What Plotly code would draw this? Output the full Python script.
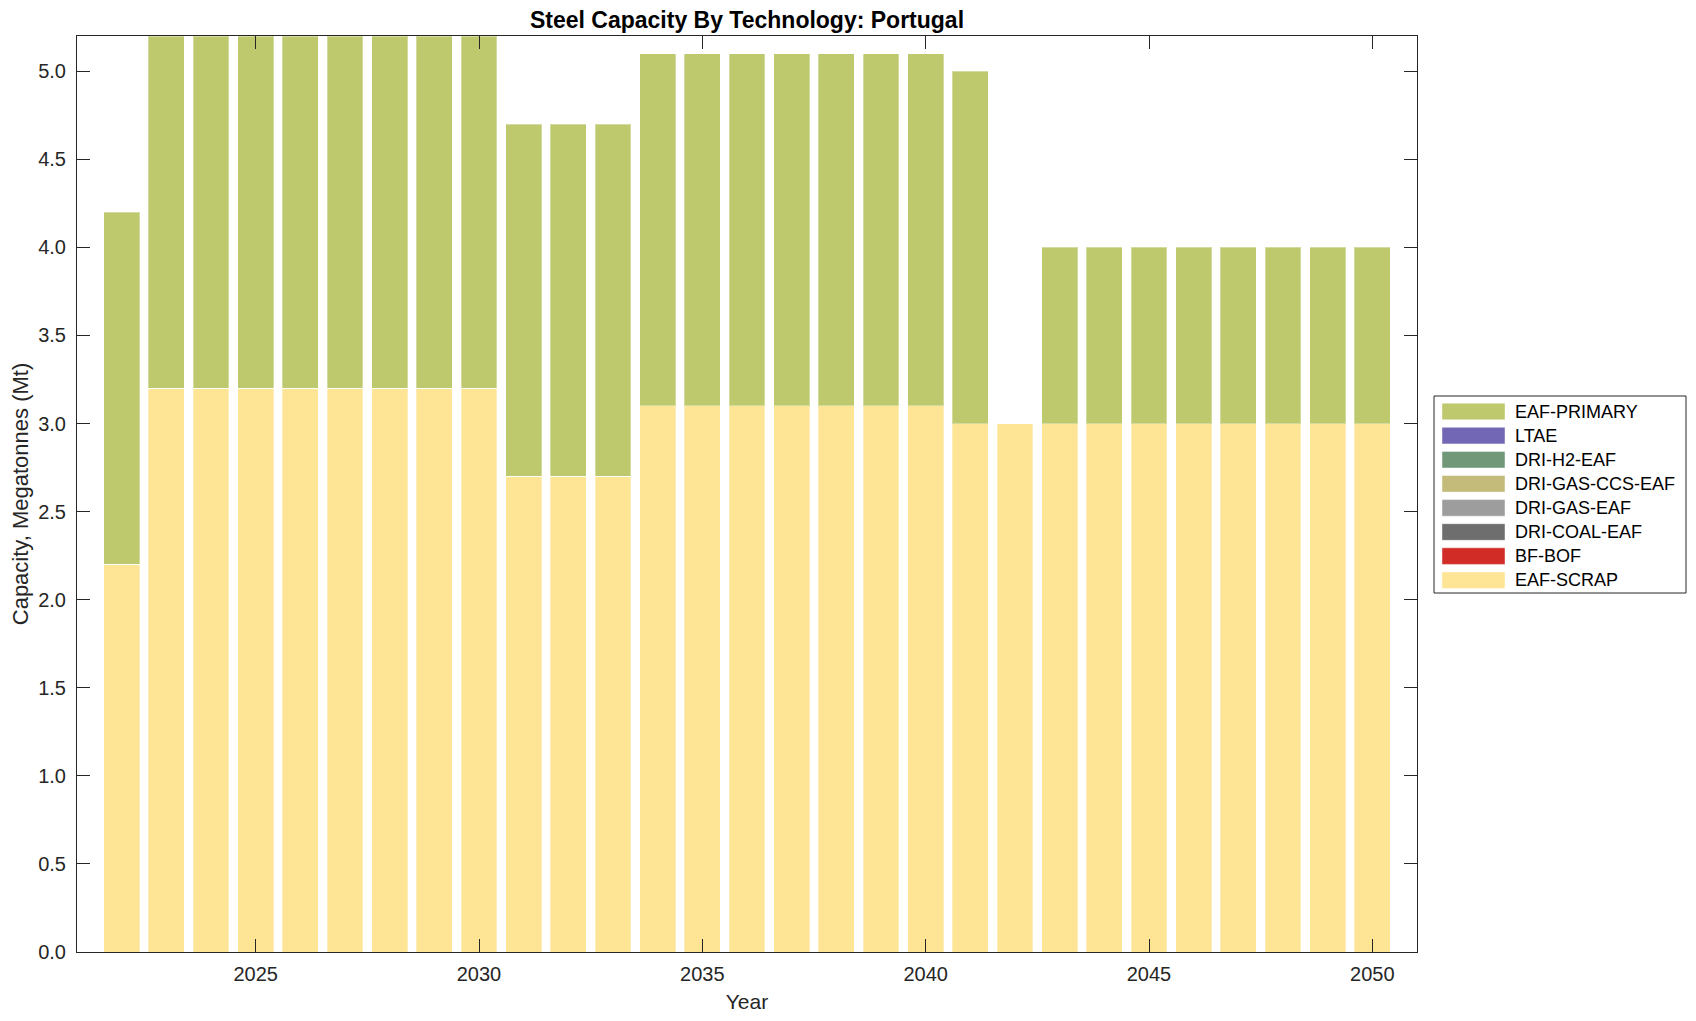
import plotly.graph_objects as go

years = list(range(2022, 2051))

eaf_scrap = [2.2] + [3.2] * 8 + [2.7] * 3 + [3.1] * 7 + [3.0] * 10
bf_bof = [0.0] * 29
dri_coal_eaf = [0.0] * 29
dri_gas_eaf = [0.0] * 29
dri_gas_ccs_eaf = [0.0] * 29
dri_h2_eaf = [0.0] * 29
ltae = [0.0] * 29
eaf_primary = [2.0] * 20 + [0.0] + [1.0] * 8

# bottom-to-top stacking order
series = [
    ("EAF-SCRAP", eaf_scrap, "#FEE495"),
    ("BF-BOF", bf_bof, "#D12C26"),
    ("DRI-COAL-EAF", dri_coal_eaf, "#6E6E6E"),
    ("DRI-GAS-EAF", dri_gas_eaf, "#9D9D9D"),
    ("DRI-GAS-CCS-EAF", dri_gas_ccs_eaf, "#C4BB7B"),
    ("DRI-H2-EAF", dri_h2_eaf, "#72987A"),
    ("LTAE", ltae, "#7267B5"),
    ("EAF-PRIMARY", eaf_primary, "#BEC86C"),
]

W, H = 1680, 1005
L, R, T, B = 69, 1409, 28, 944  # plot area in figure pixels

def px(x):
    return (x - L) / (R - L)

def py(y):
    return (B - y) / (B - T)

font_family = "Liberation Sans, Arial, Helvetica, sans-serif"
fig = go.Figure()
for name, vals, color in series:
    fig.add_trace(go.Bar(
        x=years, y=vals, name=name, showlegend=False,
        marker=dict(color=color, line=dict(color="rgba(255,255,255,0.35)", width=1)),
    ))

axis_common = dict(
    showline=True, linecolor="#262626", linewidth=1, mirror="ticks",
    ticks="inside", ticklen=13, tickcolor="#262626", tickwidth=1,
    showgrid=False, zeroline=False, automargin=False,
    tickfont=dict(size=20, color="#262626", family=font_family),
)

# custom legend (wide swatches) built from the series list
shapes = []
annotations = []
shapes.append(dict(type="rect", xref="paper", yref="paper",
                   x0=px(1426), x1=px(1678), y0=py(388), y1=py(585),
                   line=dict(color="#262626", width=1), fillcolor="white", layer="above"))
for i, (name, vals, color) in enumerate(reversed(series)):
    cy = 403.5 + 24.1 * i
    shapes.append(dict(type="rect", xref="paper", yref="paper",
                       x0=px(1434), x1=px(1497), y0=py(cy - 8.3), y1=py(cy + 8.3),
                       line=dict(color="rgba(255,255,255,0.45)", width=1), fillcolor=color,
                       layer="above"))
    annotations.append(dict(text=name, xref="paper", yref="paper",
                            x=px(1505), y=py(cy), xanchor="left", yanchor="middle",
                            showarrow=False,
                            font=dict(size=18, color="black", family=font_family)))

fig.update_layout(
    width=W, height=H,
    margin=dict(l=L, r=W - R, t=T, b=H - B),
    barmode="stack", bargap=0.2,
    plot_bgcolor="white", paper_bgcolor="white",
    font=dict(family=font_family, color="#262626"),
    showlegend=False,
    title=dict(text="<b>Steel Capacity By Technology: Portugal</b>",
               x=(L + R) / 2 / W, xanchor="center", y=1 - 11.5 / H, yanchor="middle",
               font=dict(size=23, color="black", family=font_family)),
    xaxis=dict(range=[2021, 2051], tickmode="linear", tick0=2025, dtick=5,
               ticklabelstandoff=4,
               title=dict(text="Year", font=dict(size=21, color="#262626"), standoff=10),
               **axis_common),
    yaxis=dict(range=[0, 5.2], tickmode="linear", tick0=0, dtick=0.5, tickformat=".1f",
               ticklabelstandoff=6,
               title=dict(text="Capacity, Megatonnes (Mt)", font=dict(size=22, color="#262626"), standoff=6),
               **axis_common),
    shapes=shapes,
    annotations=annotations,
)

fig.write_html("out.html")
